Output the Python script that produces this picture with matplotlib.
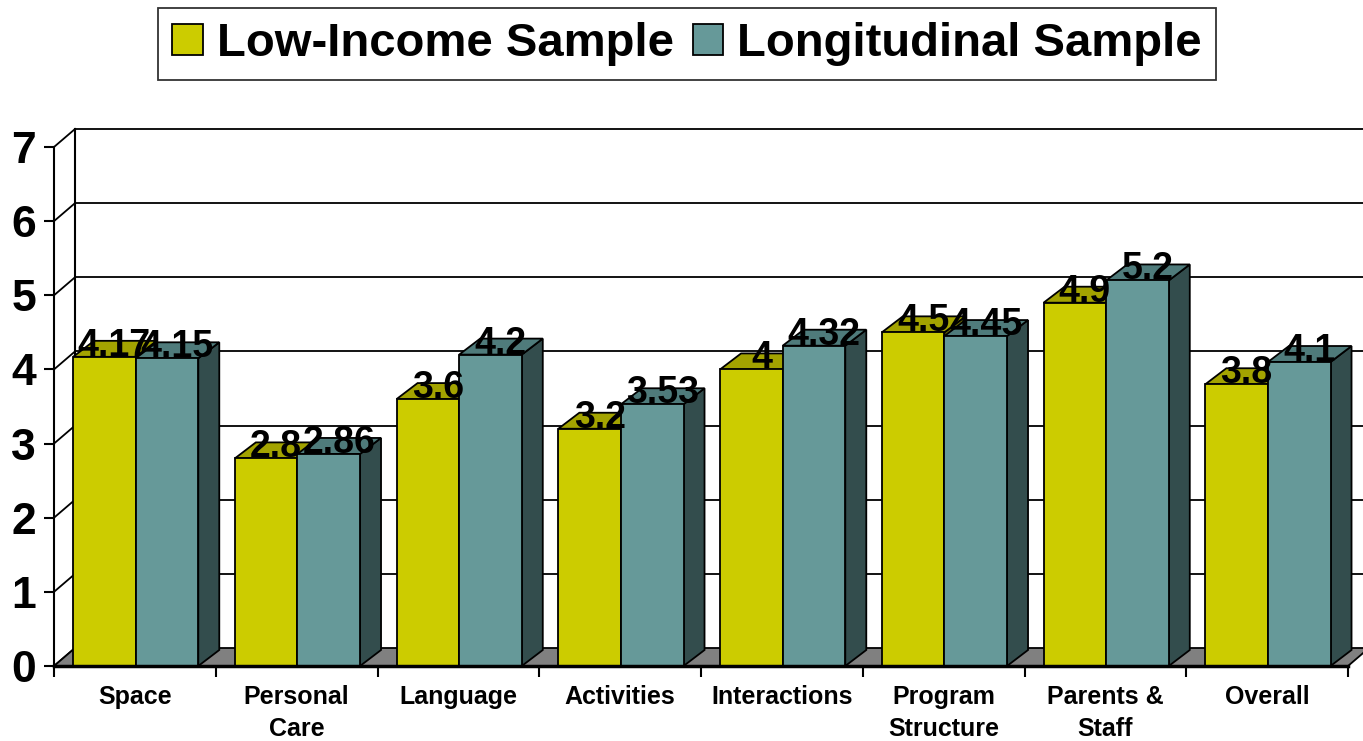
import matplotlib.pyplot as plt
from matplotlib.patches import Polygon, Rectangle, Patch
import numpy as np

plt.rcParams['font.family'] = ['Liberation Sans', 'DejaVu Sans']
plt.rcParams['font.weight'] = 'bold'

categories = ["Space", "Personal\nCare", "Language", "Activities", "Interactions",
              "Program\nStructure", "Parents &\nStaff", "Overall"]
low_income = [4.17, 2.8, 3.6, 3.2, 4, 4.5, 4.9, 3.8]
longitudinal = [4.15, 2.86, 4.2, 3.53, 4.32, 4.45, 5.2, 4.1]
series_names = ["Low-Income Sample", "Longitudinal Sample"]
y_ticks = [0, 1, 2, 3, 4, 5, 6, 7]

yellow = "#CCCC00"
yellow_top = "#A3A300"
yellow_side = "#666600"
teal = "#669999"
teal_top = "#4F7B7B"
teal_side = "#334D4D"

W, H = 1363, 741
fig = plt.figure(figsize=(W / 100, H / 100), dpi=100)
ax = fig.add_axes([54 / W, (H - 666) / H, 1294 / W, 519 / H])
ax.set_xlim(0, len(categories))
ax.set_ylim(0, 7)

# depth in data units (pixel offsets converted)
px_x = len(categories) / 1294.0
px_y = 7 / 519.0
wall_dx, wall_dy = 21 * px_x, 18 * px_y
bar_dx, bar_dy = 21 * px_x, 16 * px_y
n = len(categories)

# back wall + grid
for v in y_ticks[1:]:
    ax.plot([wall_dx, n + wall_dx], [v + wall_dy, v + wall_dy], color="black", lw=1.3,
            clip_on=False, zorder=1)
for v in y_ticks:
    ax.plot([0, wall_dx], [v, v + wall_dy], color="black", lw=1.3, clip_on=False, zorder=1)
ax.plot([wall_dx, wall_dx], [wall_dy, 7 + wall_dy], color="black", lw=1.5, clip_on=False, zorder=1)

# floor
ax.add_patch(Polygon([(0, 0), (n, 0), (n + wall_dx, wall_dy), (wall_dx, wall_dy)],
                     closed=True, facecolor="#808080", edgecolor="black", lw=1.3,
                     clip_on=False, zorder=1))

bw = 0.387
def draw_bar(x0, h, front, top, side):
    x1 = x0 + bw
    ax.add_patch(Polygon([(x1, 0), (x1, h), (x1 + bar_dx, h + bar_dy), (x1 + bar_dx, bar_dy)],
                         closed=True, facecolor=side, edgecolor="black", lw=1.3,
                         clip_on=False, zorder=3))
    ax.add_patch(Polygon([(x0, h), (x1, h), (x1 + bar_dx, h + bar_dy), (x0 + bar_dx, h + bar_dy)],
                         closed=True, facecolor=top, edgecolor="black", lw=1.3,
                         clip_on=False, zorder=3))
    ax.add_patch(Rectangle((x0, 0), bw, h, facecolor=front, edgecolor="black", lw=1.3,
                           clip_on=False, zorder=3))

x = np.arange(n)
for i in range(n):
    xc = x[i] + 0.505
    draw_bar(xc - bw, low_income[i], yellow, yellow_top, yellow_side)
    draw_bar(xc, longitudinal[i], teal, teal_top, teal_side)

# labels (drawn on top)
for i in range(n):
    xc = x[i] + 0.505
    for xb, val in [(xc - bw / 2, low_income[i]), (xc + bw / 2, longitudinal[i])]:
        ax.annotate(f"{val:g}", xy=(xb, val), xytext=(10, 1), textcoords="offset pixels",
                    ha="center", va="baseline", fontsize=27, fontweight="bold",
                    zorder=6, annotation_clip=False)

# axes
for s in ["top", "right"]:
    ax.spines[s].set_visible(False)
ax.spines["left"].set_linewidth(1.5)
ax.spines["bottom"].set_linewidth(2.5)
ax.spines["bottom"].set_zorder(4)
ax.set_yticks(y_ticks)
ax.set_yticklabels([str(v) for v in y_ticks], fontsize=32, fontweight="bold")
ax.tick_params(axis="y", length=7, width=1.5, pad=6)
ax.set_xticks(np.arange(n + 1))
ax.set_xticklabels([])
ax.tick_params(axis="x", which="major", length=8, width=1.5)
ax.set_xticks(x + 0.5, minor=True)
ax.set_xticklabels(categories, minor=True, fontsize=18, fontweight="bold", linespacing=1.4)
ax.tick_params(axis="x", which="minor", length=0, pad=14)
ax.set_facecolor("none")

handles = [Patch(facecolor=yellow, edgecolor="black", lw=1.3),
           Patch(facecolor=teal, edgecolor="black", lw=1.3)]
leg = fig.legend(handles, series_names, loc="center", bbox_to_anchor=(687 / W, 1 - 44 / H),
                 ncol=2, frameon=True, fancybox=False, edgecolor="black",
                 handlelength=0.65, handleheight=0.65, handletextpad=0.3, columnspacing=0.4,
                 borderpad=0.3, prop={"weight": "bold", "size": 34})
leg.get_frame().set_linewidth(1.3)

fig.savefig("out.png", dpi=100)
